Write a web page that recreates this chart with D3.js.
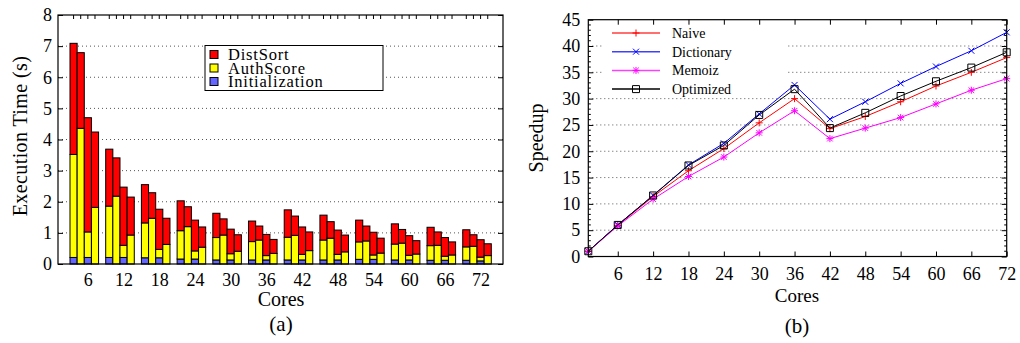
<!DOCTYPE html>
<html><head><meta charset="utf-8">
<script src="https://cdn.jsdelivr.net/npm/d3@7"></script>
<style>
body{margin:0;background:#fff}
svg{display:block}
text{font-family:"Liberation Serif","Times New Roman",serif;fill:#000}
</style>
</head><body>
<svg id="c" width="1020" height="343"></svg>
<script>
// ---------- data: (a) execution time breakdown ----------
const cores = [6, 12, 18, 24, 30, 36, 42, 48, 54, 60, 66, 72];
const seriesNames = ["Naive", "Dictionary", "Memoiz", "Optimized"];
const componentNames = ["Initialization", "AuthScore", "DistSort"];
const timeTicks = [0, 1, 2, 3, 4, 5, 6, 7, 8];

const initNaive = [0.21, 0.21, 0.20, 0.16, 0.13, 0.13, 0.13, 0.13, 0.15, 0.13, 0.12, 0.12];
const authNaive = [3.31, 1.65, 1.12, 0.91, 0.72, 0.59, 0.73, 0.64, 0.56, 0.51, 0.47, 0.43];
const distNaive = [3.57, 1.83, 1.23, 0.96, 0.78, 0.66, 0.88, 0.80, 0.70, 0.65, 0.59, 0.55];

const initDictionary = [0, 0, 0, 0, 0, 0, 0, 0, 0, 0, 0, 0];
const authDictionary = [4.36, 2.18, 1.47, 1.20, 0.93, 0.77, 0.92, 0.83, 0.74, 0.67, 0.60, 0.57];
const distDictionary = [2.43, 1.23, 0.82, 0.64, 0.52, 0.45, 0.62, 0.53, 0.48, 0.44, 0.43, 0.37];

const initMemoiz = [0.21, 0.21, 0.20, 0.16, 0.13, 0.13, 0.13, 0.13, 0.15, 0.13, 0.12, 0.10];
const authMemoiz = [0.82, 0.39, 0.27, 0.26, 0.20, 0.14, 0.18, 0.18, 0.14, 0.15, 0.13, 0.12];
const distMemoiz = [3.67, 1.87, 1.29, 0.99, 0.79, 0.68, 0.88, 0.78, 0.73, 0.63, 0.60, 0.56];

const initOptimized = [0, 0, 0, 0, 0, 0, 0, 0, 0, 0, 0, 0];
const authOptimized = [1.82, 0.93, 0.63, 0.54, 0.41, 0.34, 0.43, 0.39, 0.35, 0.32, 0.29, 0.27];
const distOptimized = [2.42, 1.22, 0.84, 0.65, 0.53, 0.45, 0.60, 0.54, 0.48, 0.43, 0.42, 0.38];

// ---------- data: (b) speedup ----------
const speedupCores = [1, 6, 12, 18, 24, 30, 36, 42, 48, 54, 60, 66, 72];
const speedupNaive = [1, 5.9, 11.4, 16.3, 20.5, 25.4, 30.0, 24.3, 26.6, 29.4, 32.4, 35.0, 37.8];
const speedupDictionary = [1, 6.0, 11.6, 17.4, 21.5, 27.1, 32.6, 26.1, 29.4, 32.9, 36.1, 39.1, 42.6];
const speedupMemoiz = [1, 5.8, 10.9, 15.2, 18.9, 23.5, 27.7, 22.4, 24.4, 26.4, 29.0, 31.6, 33.8];
const speedupOptimized = [1, 6.0, 11.6, 17.3, 21.1, 26.9, 31.8, 24.4, 27.3, 30.5, 33.3, 35.9, 38.8];
const speedupTicks = [0, 5, 10, 15, 20, 25, 30, 35, 40, 45];
const speedupMinorTicks = d3.range(0, 46, 1);
const speedupXTicks = [6, 12, 18, 24, 30, 36, 42, 48, 54, 60, 66, 72];

// ---------- helpers ----------
const svg = d3.select("#c");
const FONT = '"Liberation Serif","Times New Roman",serif';
const gridStyle = s => s.attr("stroke", "#555").attr("stroke-width", 1).attr("stroke-dasharray", "1,3");
function styleAxisText(g, size) {
  g.selectAll("text").attr("font-family", FONT).attr("font-size", size).attr("fill", "#000");
  g.select(".domain").remove();
  g.selectAll("line").attr("stroke", "#000");
}

// =============== (a) ===============
const L = {x0: 58, x1: 503, y0: 15, y1: 264};
const yL = d3.scaleLinear().domain([0, 8]).range([L.y1, L.y0]);
const xG = d3.scaleBand().domain(cores).range([70, 491.3]).paddingInner(0.2).paddingOuter(0);
const xS = d3.scaleBand().domain(seriesNames).range([0, xG.bandwidth()]);
const compColor = d3.scaleOrdinal().domain(componentNames).range(["#6464ff", "#ffff00", "#ff0000"]);

const gA = svg.append("g");
gA.append("g").selectAll("line").data(timeTicks.filter(t => t > 0 && t < 8)).join("line")
  .attr("x1", L.x0).attr("x2", L.x1).attr("y1", d => yL(d)).attr("y2", d => yL(d)).call(gridStyle);

const seriesData = {
  Naive: [initNaive, authNaive, distNaive],
  Dictionary: [initDictionary, authDictionary, distDictionary],
  Memoiz: [initMemoiz, authMemoiz, distMemoiz],
  Optimized: [initOptimized, authOptimized, distOptimized]
};
const rects = [];
seriesNames.forEach(s => {
  cores.forEach((c, i) => {
    let base = 0;
    componentNames.forEach((comp, k) => {
      const v = seriesData[s][k][i];
      if (v > 0) rects.push({s, c, comp, y0: base, y1: base + v});
      base += v;
    });
  });
});
gA.append("g").selectAll("rect").data(rects).join("rect")
  .attr("x", d => xG(d.c) + xS(d.s))
  .attr("width", xS.bandwidth())
  .attr("y", d => yL(d.y1))
  .attr("height", d => yL(d.y0) - yL(d.y1))
  .attr("fill", d => compColor(d.comp))
  .attr("stroke", "#000").attr("stroke-width", 1);

gA.append("rect").attr("x", L.x0).attr("y", L.y0).attr("width", L.x1 - L.x0).attr("height", L.y1 - L.y0)
  .attr("fill", "none").attr("stroke", "#000").attr("stroke-width", 1.2);

const axL = gA.append("g").attr("transform", `translate(${L.x0},0)`)
  .call(d3.axisLeft(yL).tickValues(timeTicks).tickSize(-5).tickPadding(6).tickFormat(d3.format("d")));
styleAxisText(axL, 18);
const axLR = gA.append("g").attr("transform", `translate(${L.x1},0)`)
  .call(d3.axisRight(yL).tickValues(timeTicks).tickSize(-5).tickFormat(""));
styleAxisText(axLR, 18);

const barCentres = [];
cores.forEach(c => seriesNames.forEach(s => barCentres.push(xG(c) + xS(s) + xS.bandwidth() / 2)));
gA.append("g").selectAll("line").data(barCentres).join("line")
  .attr("x1", d => d).attr("x2", d => d).attr("y1", L.y0).attr("y2", L.y0 + 4)
  .attr("stroke", "#000").attr("stroke-width", 1);

const xLab = d3.scaleOrdinal().domain(cores).range(cores.map(c => xG(c) + xS("Memoiz") + xS.bandwidth() / 2));
const axLB = gA.append("g").attr("transform", `translate(0,${L.y1})`)
  .call(d3.axisBottom(xLab).tickSize(0).tickPadding(9));
styleAxisText(axLB, 18);
axLB.selectAll("line").remove();

gA.append("text").attr("x", 281).attr("y", 306).attr("text-anchor", "middle").attr("font-size", 20).text("Cores");
gA.append("text").attr("x", 281).attr("y", 331).attr("text-anchor", "middle").attr("font-size", 21).text("(a)");
gA.append("text").attr("transform", "translate(27,136) rotate(-90)").attr("text-anchor", "middle")
  .attr("font-size", 20).attr("letter-spacing", 0.4).text("Execution Time (s)");

const legA = gA.append("g");
legA.append("rect").attr("x", 205).attr("y", 45.5).attr("width", 178).attr("height", 45)
  .attr("fill", "#fff").attr("stroke", "#000").attr("stroke-width", 1);
const legItemsA = componentNames.slice().reverse();
legA.selectAll("g.it").data(legItemsA).join("g").attr("class", "it")
  .attr("transform", (d, i) => `translate(210,${50 + i * 13.5})`)
  .each(function (d) {
    const g = d3.select(this);
    g.append("rect").attr("x", 0).attr("y", 0.5).attr("width", 8).attr("height", 8)
      .attr("fill", compColor(d)).attr("stroke", "#000").attr("stroke-width", 1);
    g.append("text").attr("x", 18).attr("y", 10).attr("font-size", 16.5).attr("letter-spacing", 0.8).text(d);
  });

// =============== (b) ===============
const R = {x0: 588.3, x1: 1006.7, y0: 19.7, y1: 256.5};
const xR = d3.scaleLinear().domain([1, 72]).range([R.x0, R.x1]);
const yR = d3.scaleLinear().domain([0, 45]).range([R.y1, R.y0]);
const gB = svg.append("g");

gB.append("g").selectAll("line").data(speedupTicks.filter(t => t > 0 && t < 45)).join("line")
  .attr("x1", R.x0).attr("x2", R.x1).attr("y1", d => yR(d)).attr("y2", d => yR(d)).call(gridStyle);

gB.append("rect").attr("x", 602).attr("y", 22).attr("width", 184).attr("height", 74).attr("fill", "#fff");

const lineColors = d3.scaleOrdinal().domain(seriesNames).range(["#ff0000", "#0000ff", "#ff00ff", "#000000"]);
const markerPath = {
  Naive: "M-3.5,0H3.5M0,-3.5V3.5",
  Dictionary: "M-3,-3L3,3M-3,3L3,-3",
  Memoiz: "M-3.5,0H3.5M0,-3.5V3.5M-2.8,-2.8L2.8,2.8M-2.8,2.8L2.8,-2.8",
  Optimized: "M-3.5,-3.5H3.5V3.5H-3.5Z"
};
const speedupSeries = {
  Naive: speedupNaive, Dictionary: speedupDictionary, Memoiz: speedupMemoiz, Optimized: speedupOptimized
};
const lineGen = d3.line().x(d => xR(d[0])).y(d => yR(d[1]));
seriesNames.forEach(s => {
  const pts = speedupCores.map((c, i) => [c, speedupSeries[s][i]]);
  gB.append("path").datum(pts).attr("d", lineGen).attr("fill", "none")
    .attr("stroke", lineColors(s)).attr("stroke-width", 1);
  gB.append("g").selectAll("path").data(pts).join("path")
    .attr("transform", d => `translate(${xR(d[0])},${yR(d[1])})`)
    .attr("d", markerPath[s]).attr("fill", "none").attr("stroke", lineColors(s)).attr("stroke-width", 1);
});

gB.append("rect").attr("x", R.x0).attr("y", R.y0).attr("width", R.x1 - R.x0).attr("height", R.y1 - R.y0)
  .attr("fill", "none").attr("stroke", "#000").attr("stroke-width", 1.2);

const axRL = gB.append("g").attr("transform", `translate(${R.x0},0)`)
  .call(d3.axisLeft(yR).tickValues(speedupTicks).tickSize(-5).tickPadding(8).tickFormat(d3.format("d")));
styleAxisText(axRL, 18);
const axRR = gB.append("g").attr("transform", `translate(${R.x1},0)`)
  .call(d3.axisRight(yR).tickValues(speedupTicks).tickSize(-5).tickFormat(""));
styleAxisText(axRR, 18);
const minor = speedupMinorTicks.filter(t => t % 5 !== 0);
[[R.x0, 1], [R.x1, -1]].forEach(([x, dir]) => {
  gB.append("g").selectAll("line").data(minor).join("line")
    .attr("x1", x).attr("x2", x + dir * 2.5).attr("y1", d => yR(d)).attr("y2", d => yR(d))
    .attr("stroke", "#000").attr("stroke-width", 1);
});
const axRB = gB.append("g").attr("transform", `translate(0,${R.y1})`)
  .call(d3.axisBottom(xR).tickValues(speedupXTicks).tickSize(-5).tickPadding(11).tickFormat(d3.format("d")));
styleAxisText(axRB, 18);
const axRT = gB.append("g").attr("transform", `translate(0,${R.y0})`)
  .call(d3.axisTop(xR).tickValues(speedupXTicks).tickSize(-5).tickFormat(""));
styleAxisText(axRT, 18);

gB.append("text").attr("x", 797).attr("y", 302).attr("text-anchor", "middle").attr("font-size", 19).text("Cores");
gB.append("text").attr("x", 797).attr("y", 333).attr("text-anchor", "middle").attr("font-size", 21).text("(b)");
gB.append("text").attr("transform", "translate(543,138) rotate(-90)").attr("text-anchor", "middle")
  .attr("font-size", 20).text("Speedup");

const legB = gB.append("g");
seriesNames.forEach((s, i) => {
  const y = 33 + i * 18.7;
  legB.append("line").attr("x1", 612).attr("x2", 660).attr("y1", y).attr("y2", y)
    .attr("stroke", lineColors(s)).attr("stroke-width", 1.5).attr("opacity", s === "Optimized" ? 1 : 0.75);
  legB.append("path").attr("transform", `translate(636,${y})`).attr("d", markerPath[s])
    .attr("fill", "none").attr("stroke", lineColors(s)).attr("stroke-width", 1);
  legB.append("text").attr("x", 672).attr("y", y + 5).attr("font-size", 14).text(s);
});
</script>
</body></html>
